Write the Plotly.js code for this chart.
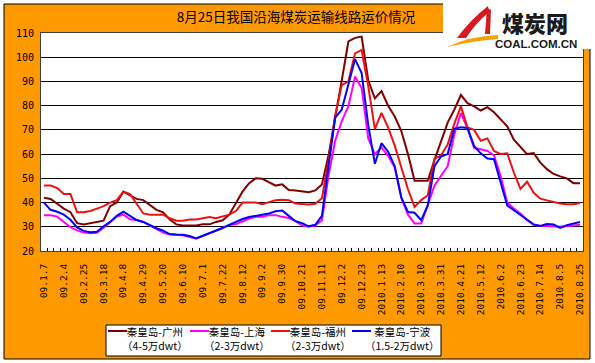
<!DOCTYPE html>
<html><head><meta charset="utf-8">
<script src="https://cdn.plot.ly/plotly-3.0.1.min.js"></script>
<style>html,body{margin:0;padding:0;background:#fff;overflow:hidden}</style>
</head><body><div id="chart" style="width:595px;height:363px"></div>
<script>
// ---- data (weekly freight rates) ----
const categories = ["09.1.7","09.1.14","09.1.21","09.2.4","09.2.11","09.2.18","09.2.25","09.3.4","09.3.11","09.3.18","09.3.25","09.4.1","09.4.8","09.4.15","09.4.22","09.4.29","09.5.6","09.5.13","09.5.20","09.5.27","09.6.3","09.6.10","09.6.17","09.6.24","09.7.1","09.7.8","09.7.15","09.7.22","09.7.29","09.8.5","09.8.12","09.8.19","09.8.26","09.9.2","09.9.9","09.9.16","09.9.30","09.10.9","09.10.14","09.10.21","09.10.28","09.11.4","09.11.11","09.11.18","09.11.25","09.12.2","09.12.9","09.12.16","09.12.23","09.12.30","2010.1.6","2010.1.13","2010.1.20","2010.1.27","2010.2.10","2010.2.24","2010.3.3","2010.3.10","2010.3.17","2010.3.24","2010.3.31","2010.4.7","2010.4.14","2010.4.21","2010.4.28","2010.5.5","2010.5.12","2010.5.19","2010.5.26","2010.6.2","2010.6.9","2010.6.16","2010.6.23","2010.6.30","2010.7.7","2010.7.14","2010.7.21","2010.7.28","2010.8.5","2010.8.11","2010.8.18","2010.8.25"];

const routeNames = ["秦皇岛-广州","秦皇岛-上海","秦皇岛-福州","秦皇岛-宁波"];
const shipSizes = ["（4-5万dwt）","（2-3万dwt）","（2-3万dwt）","（1.5-2万dwt）"];

const guangzhou = [42,41.5,39.5,37.5,36,31.5,31,31.5,32,32.5, 38.5,40,44.5,43,41.5,41,39,37,36,33, 31,30.5,30.5,30.5,31,31,32,32.7,35,39.5, 44.5,48,50,49.8,48.5,47,47.5,45.2,45,44.6, 44.3,45,47.5,59.5,74.5,90.5,106.5,108,108.5,90.5, 83,86,80,75.5,69.5,60,49,49,49,57.5, 65.5,73,78.3,84.4,81,79.7,78,79.4,77.3,74.5, 71.5,66,63,60,60.4,56.5,53.8,51.8,50.8,50, 48,48];
const shanghai = [34.8,34.8,34.2,32,29.8,28.5,27.6,27.3,27.5,29.6, 32,34.2,35,33.1,32.8,32,30.6,29.2,27.6,26.8, 26.8,26.5,25.8,25.2,26.2,27.2,28.4,29.6,30.7,31, 32.3,33.4,34.1,34.1,34.8,34.8,34.1,33.6,32.3,30.6, 30,30.5,32.7,51,65.5,73.6,79.8,92,87.3,66.5, 60,62.8,59.3,54.5,42,35,31.4,31.4,39,47, 51,55,68,77,70.5,62.5,62,61.3,59.5,51, 40,37.5,35.5,32.7,30.8,30.3,30.3,30,30,30.2, 30.5,30.8];
const fuzhou = [47,47,46,43.5,43.5,36,36,36.5,37.5,38.5, 40,41,44.5,43.5,39.5,35.5,35,35,35,33.5, 32.5,32.5,33,33,33.5,34,33.5,34.2,35,36.5, 40,40,40,39.3,40,41,41.2,41,39.6,39.3, 39.2,39.5,41.8,57,76,88.5,90,101.6,103,88, 70.3,77,71,63.5,55,45.5,38.2,41,43,58, 59.5,64,72.5,79.7,71,70,65.5,66.5,61.3,60, 60.3,52.4,45.6,48.6,44,41.6,40.9,40.2,39.6,39.3, 39.3,39.8];
const ningbo = [40,37,36.2,35,32.9,29.7,28.3,27.7,27.9,30.2, 32,34.5,36.2,34.5,32.8,32,30.6,29.4,28.4,27, 26.8,26.7,26.2,25.2,26.3,27.3,28.2,29.5,30.8,32.1, 33.2,34,34.5,34.8,35.5,36.4,36.7,34.5,32.3,31.5, 30.2,30.8,34.5,55,75,78.4,89.4,99.2,93.5,72, 56,64.5,61,55,42,36.1,35.8,32.7,38.8,55, 59,60,70.5,71.1,70.8,63.3,60.3,58.2,57.9,48.4, 38.8,36.8,34.8,32.7,31,30.3,31.1,30.9,29.5,30.7, 31.4,32];

const seriesColors = ["#800000","#FF00FF","#EE1111","#0000FF"];
const titleText = "8月25日我国沿海煤炭运输线路运价情况";

// ---- build ----
const xIdx = categories.map((_, i) => i);
const tickVals = xIdx.filter(i => i % 3 === 0);
const tickText = tickVals.map(i => categories[i]);
const xRange = [-0.45, categories.length - 1 + 0.45];

const allSeries = [guangzhou, shanghai, fuzhou, ningbo];
const traces = allSeries.map((ys, k) => ({
  type: "scatter", mode: "lines", x: xIdx, y: ys, name: routeNames[k] + " " + shipSizes[k],
  line: {color: seriesColors[k], width: 2}, showlegend: false, hoverinfo: "skip"
}));
// empty trace so the tick-mark axis (category boundaries) is drawn
traces.unshift({type: "scatter", mode: "lines", x: [], y: [], xaxis: "x2", showlegend: false, hoverinfo: "skip"});

// pixel -> paper helpers (plot area 41..583 x 33..251)
const L = 41, R = 583, T = 33, B = 251;
const px = x => (x - L) / (R - L);
const py = y => (B - y) / (B - T);
function rect(x0, y0, x1, y1, fill, line) {
  return {type: "rect", xref: "paper", yref: "paper", x0: px(x0), x1: px(x1), y0: py(y1), y1: py(y0),
    fillcolor: fill || "rgba(0,0,0,0)", line: line || {width: 0}, layer: "above"};
}
function path(pts, fill) {
  const d = pts.map(p => (typeof p === "string" ? p : (px(p[0]) + "," + py(p[1])))).join(" ");
  return {type: "path", xref: "paper", yref: "paper", path: d, fillcolor: fill, line: {width: 0}, layer: "above"};
}

const shapes = [
  rect(0, 0, 595, 4, "#fff"), rect(0, 0, 4, 363, "#fff"),
  rect(590, 0, 595, 363, "#fff"), rect(0, 359, 595, 363, "#fff"),
  rect(4, 4, 590, 359, null, {color: "#000", width: 1}),
  rect(443, 0, 595, 49, "#fff"),
  path(["M", [447, 47], "Q", [470, 36], [498, 35], "L", [498, 39], "Q", [472, 41], [447, 47], "Z"], "#F5A300"),
  path(["M", [457, 38], "Q", [470, 20], [488, 6], "L", [489, 12], "Q", [475, 24], [466, 38], "Z"], "#D71920"),
  path(["M", [487, 8], "L", [491, 10], "L", [490, 34], "L", [485, 34], "Z"], "#D71920"),
  // legend box
  rect(106, 325, 441, 356, "#fff", {color: "#000", width: 1})
];

const annotations = [
  {xref: "paper", yref: "paper", x: px(535), y: py(22), text: "煤炭网", showarrow: false,
   xanchor: "center", yanchor: "middle",
   font: {family: "Noto Sans CJK SC", size: 22, color: "#1a1a1a", weight: 900}},
  {xref: "paper", yref: "paper", x: px(536), y: py(43.5), text: "COAL.COM.CN", showarrow: false,
   xanchor: "center", yanchor: "middle",
   font: {family: "Liberation Sans", size: 11.5, color: "#1a1a1a", weight: 700}}
];

// hand-placed legend (line sample + two-line label per series)
const legendLineX = [108, 190, 271, 352];
const legendTextX = [155, 237, 318, 402];
routeNames.forEach((nm, k) => {
  shapes.push({type: "line", xref: "paper", yref: "paper", x0: px(legendLineX[k]), x1: px(legendLineX[k] + 19),
    y0: py(331), y1: py(331), line: {color: seriesColors[k], width: 2}, layer: "above"});
  annotations.push({xref: "paper", yref: "paper", x: px(legendTextX[k]), y: py(338.5), showarrow: false,
    text: nm + "<br>" + shipSizes[k], align: "center", xanchor: "center", yanchor: "middle",
    font: {family: "Noto Sans CJK SC", size: 10.5, color: "#000"}});
});

const layout = {
  width: 595, height: 363,
  margin: {l: L, r: 595 - R, t: T, b: 363 - B, pad: 0},
  paper_bgcolor: "#FF9900", plot_bgcolor: "#FFFFFF",
  title: {text: titleText, x: 296 / 595, xanchor: "center", y: 1 - 17 / 363, yanchor: "middle",
          font: {family: "Noto Sans CJK SC", size: 13.5, color: "#000"}},
  showlegend: false,
  xaxis: {type: "linear", range: xRange, tickmode: "array", tickvals: tickVals, ticktext: tickText,
          tickangle: -90, ticks: "", showgrid: false, zeroline: false, ticklabelstandoff: 8,
          showline: true, linecolor: "#404040", linewidth: 1, mirror: true,
          tickfont: {family: "DejaVu Sans Mono", size: 9.5, color: "#000"}, fixedrange: true},
  xaxis2: {type: "linear", range: xRange, overlaying: "x", anchor: "y", side: "bottom",
           tickmode: "linear", tick0: 0.5, dtick: 1, ticks: "inside", ticklen: 3, tickwidth: 1, tickcolor: "#000",
           showticklabels: false, showgrid: false, zeroline: false, showline: false, fixedrange: true},
  yaxis: {range: [20, 110], dtick: 10, tick0: 20, ticks: "", showgrid: true, gridcolor: "#000", gridwidth: 1,
          zeroline: false, showline: true, linecolor: "#404040", linewidth: 1, mirror: true, ticklabelstandoff: 4,
          tickfont: {family: "DejaVu Sans Mono", size: 10, color: "#000"}, fixedrange: true},
  shapes: shapes, annotations: annotations
};

Plotly.newPlot("chart", traces, layout, {displayModeBar: false, staticPlot: true});
</script></body></html>
